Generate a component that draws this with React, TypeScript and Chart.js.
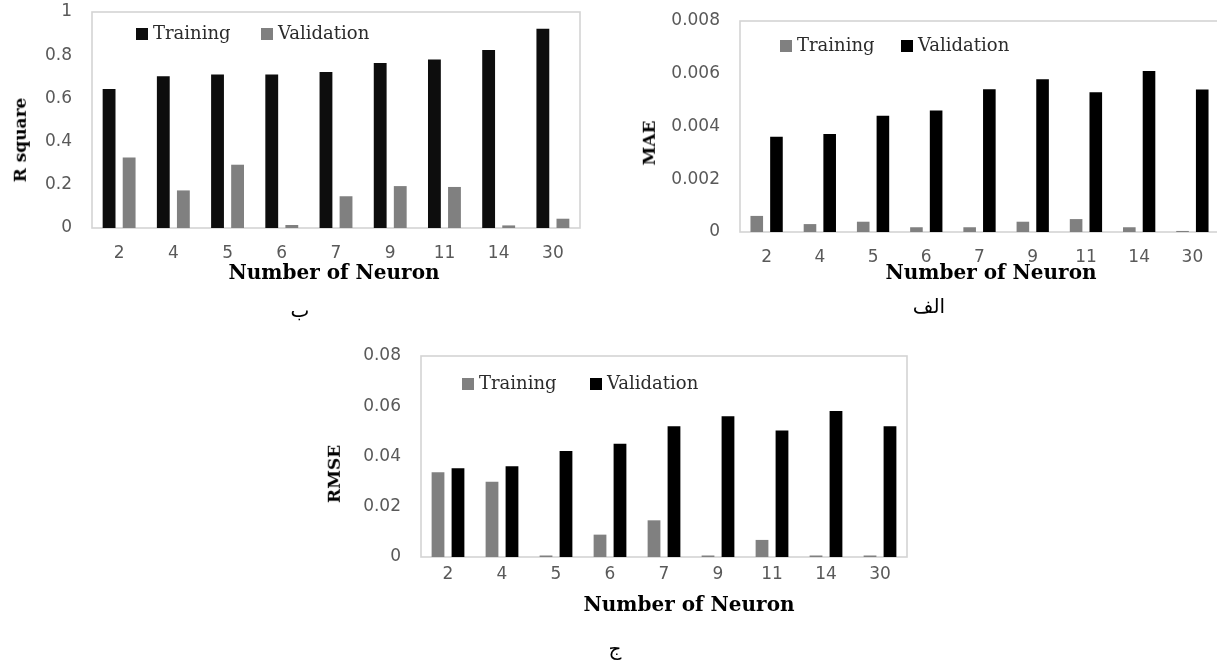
import React, { useEffect, useRef } from 'react';
import { Chart, registerables } from 'chart.js';

Chart.register(...registerables);

// ---- data ----
const categories = ['2', '4', '5', '6', '7', '9', '11', '14', '30'];

const rsqTraining = [0.643, 0.702, 0.711, 0.711, 0.722, 0.764, 0.78, 0.824, 0.923];
const rsqValidation = [0.326, 0.174, 0.293, 0.014, 0.147, 0.194, 0.19, 0.012, 0.043];
const rsqTicks = ['0', '0.2', '0.4', '0.6', '0.8', '1'];

const maeTraining = [0.00061, 0.0003, 0.00039, 0.00018, 0.00018, 0.00039, 0.00049, 0.00018, 0.00004];
const maeValidation = [0.00361, 0.00372, 0.00441, 0.00461, 0.00541, 0.00579, 0.0053, 0.0061, 0.0054];
const maeTicks = ['0', '0.002', '0.004', '0.006', '0.008'];

const rmseTraining = [0.0337, 0.03, 0.0006, 0.0089, 0.0146, 0.0006, 0.0068, 0.0006, 0.0006];
const rmseValidation = [0.0353, 0.0361, 0.0422, 0.0451, 0.052, 0.056, 0.0503, 0.0581, 0.052];
const rmseTicks = ['0', '0.02', '0.04', '0.06', '0.08'];

const seriesNames = ['Training', 'Validation'];
const xTitle = 'Number of Neuron';

// ---- styling ----
const BLACK = '#0d0d0d';
const GRAY = '#808080';
const TICK_FONT = { family: 'DejaVu Sans', size: 17 };
const SERIF = 'DejaVu Serif';

const framePlugin = {
  id: 'frame',
  beforeDatasetsDraw(chart: any, _args: any, opts: any) {
    const { ctx, chartArea: a } = chart;
    ctx.save();
    ctx.strokeStyle = opts.color || '#d0d0d0';
    ctx.lineWidth = opts.width || 1.5;
    ctx.strokeRect(a.left, a.top, a.right - a.left, a.bottom - a.top);
    ctx.restore();
  },
  afterDatasetsDraw(chart: any, _args: any, opts: any) {
    const { ctx } = chart;
    const items = opts.items || [];
    ctx.save();
    ctx.font = `18px "${SERIF}"`;
    ctx.textBaseline = 'middle';
    ctx.textAlign = 'left';
    items.forEach((it: any, i: number) => {
      const ds = chart.data.datasets[i];
      ctx.fillStyle = ds.backgroundColor;
      ctx.fillRect(it.x, it.y - 6, 12, 12);
      ctx.fillStyle = '#2b2b2b';
      ctx.fillText(ds.label, it.x + 17, it.y);
    });
    ctx.restore();
  },
};

type Cfg = {
  left: number; top: number; width: number; height: number;
  plotLeft: number; plotRight: number; plotTop: number; plotBottom: number;
  training: number[]; validation: number[]; trainColor: string; valColor: string;
  max: number; step: number; ticks: string[]; xPad: number;
  legend: { x: number; y: number }[];
};

function BarChart({ cfg }: { cfg: Cfg }) {
  const ref = useRef<HTMLCanvasElement | null>(null);
  useEffect(() => {
    const xH = 40;
    const chart = new Chart(ref.current as HTMLCanvasElement, {
      type: 'bar',
      data: {
        labels: categories,
        datasets: [
          { label: seriesNames[0], data: cfg.training, backgroundColor: cfg.trainColor, categoryPercentage: 0.74, barPercentage: 0.64 },
          { label: seriesNames[1], data: cfg.validation, backgroundColor: cfg.valColor, categoryPercentage: 0.74, barPercentage: 0.64 },
        ],
      },
      options: {
        responsive: false,
        animation: false,
        devicePixelRatio: 1,
        layout: {
          padding: {
            left: 0,
            top: cfg.plotTop,
            right: cfg.width - cfg.plotRight,
            bottom: cfg.height - cfg.plotBottom - xH,
          },
        },
        plugins: {
          legend: { display: false },
          tooltip: { enabled: false },
          frame: { items: cfg.legend, color: '#d4d4d4', width: 1.6 },
        } as any,
        scales: {
          x: {
            grid: { display: false, drawTicks: false },
            border: { display: false },
            ticks: { font: TICK_FONT, color: '#595959', padding: cfg.xPad, maxRotation: 0, autoSkip: false },
            afterFit: (s: any) => { s.height = xH; },
          },
          y: {
            min: 0,
            max: cfg.max,
            grid: { display: false, drawTicks: true, tickLength: 20 },
            border: { display: false },
            ticks: {
              stepSize: cfg.step,
              font: TICK_FONT,
              color: '#595959',
              padding: 0,
              callback: (_v: any, i: number) => cfg.ticks[i],
            },
            afterFit: (s: any) => { s.width = cfg.plotLeft; },
          },
        },
      },
      plugins: [framePlugin],
    } as any);
    return () => chart.destroy();
  }, []);
  return (
    <canvas
      ref={ref}
      width={cfg.width}
      height={cfg.height}
      style={{ position: 'absolute', left: cfg.left, top: cfg.top, width: cfg.width, height: cfg.height }}
    />
  );
}

function Label({ text, cx, cy, size, bold, rotate, family }: any) {
  return (
    <div
      style={{
        position: 'absolute',
        left: cx,
        top: cy,
        transform: `translate(-50%, -50%)${rotate ? ' rotate(-90deg)' : ''}`,
        whiteSpace: 'nowrap',
        fontFamily: family || SERIF,
        fontSize: size,
        fontWeight: bold ? 'bold' : 'normal',
        lineHeight: 1.2,
        color: '#000',
      }}
    >
      {text}
    </div>
  );
}

const chartR: Cfg = {
  left: 0, top: 0, width: 600, height: 300,
  plotLeft: 92, plotRight: 580, plotTop: 12, plotBottom: 228,
  training: rsqTraining, validation: rsqValidation, trainColor: BLACK, valColor: GRAY,
  max: 1, step: 0.2, ticks: rsqTicks, xPad: 15,
  legend: [{ x: 136, y: 34 }, { x: 261, y: 34 }],
};

const chartMAE: Cfg = {
  left: 620, top: 0, width: 620, height: 300,
  plotLeft: 120, plotRight: 599, plotTop: 21, plotBottom: 232,
  training: maeTraining, validation: maeValidation, trainColor: GRAY, valColor: '#000',
  max: 0.008, step: 0.002, ticks: maeTicks, xPad: 15,
  legend: [{ x: 160, y: 46 }, { x: 281, y: 46 }],
};

const chartRMSE: Cfg = {
  left: 300, top: 340, width: 620, height: 321,
  plotLeft: 121, plotRight: 607, plotTop: 16, plotBottom: 217,
  training: rmseTraining, validation: rmseValidation, trainColor: GRAY, valColor: '#000',
  max: 0.08, step: 0.02, ticks: rmseTicks, xPad: 7,
  legend: [{ x: 162, y: 44 }, { x: 290, y: 44 }],
};

export default function App() {
  return (
    <div
      style={{
        position: 'absolute', left: 0, top: 0, width: 1217, height: 661,
        overflow: 'hidden', background: '#fff',
      }}
    >
      <BarChart cfg={chartR} />
      <BarChart cfg={chartMAE} />
      <BarChart cfg={chartRMSE} />
      <Label text="R square" cx={20} cy={140} size={17} bold rotate />
      <Label text="MAE" cx={649} cy={143} size={17} bold rotate />
      <Label text="RMSE" cx={334} cy={474} size={17} bold rotate />
      <Label text={xTitle} cx={334} cy={272} size={20} bold />
      <Label text={xTitle} cx={991} cy={272} size={20} bold />
      <Label text={xTitle} cx={689} cy={604} size={20} bold />
      <Label text="ب" cx={300} cy={310} size={20} family="DejaVu Sans" />
      <Label text="الف" cx={929} cy={306} size={20} family="DejaVu Sans" />
      <Label text="ج" cx={615} cy={648} size={20} family="DejaVu Sans" />
    </div>
  );
}
